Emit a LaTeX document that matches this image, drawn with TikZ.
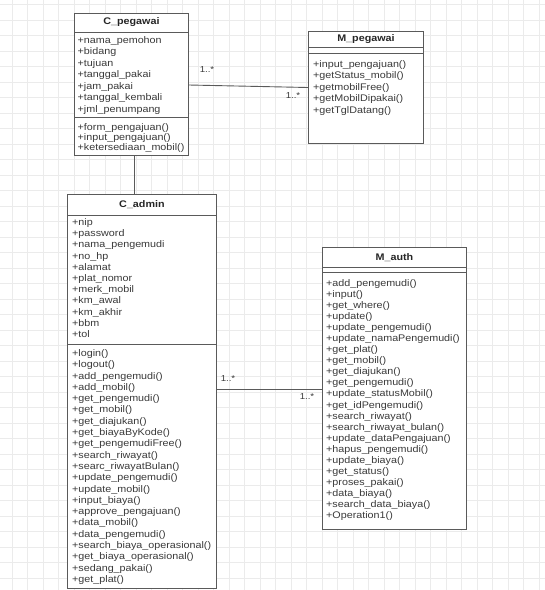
\documentclass[tikz,border=0pt]{standalone}
\usepackage{fontspec}
\setmainfont{Liberation Sans}[FakeStretch=1.12]
\usetikzlibrary{calc}
\definecolor{Grid}{HTML}{EBEBEB}
\definecolor{Edge}{HTML}{5A5A5A}
\definecolor{Ink}{HTML}{3A3A3A}

\begin{document}
\begin{tikzpicture}[x=1pt,y=-1pt,
    cls/.style={draw=Edge,line width=.9pt,fill=white,anchor=north west,inner sep=0pt},
    ttl/.style={font=\fontsize{9.6}{11}\selectfont\bfseries,text=black!85},
    mem/.style={anchor=north west,inner sep=0pt,align=left,text=Ink,font=\fontsize{9.6}{#1}\selectfont},
    mem/.default=11.3,
    sep/.style={draw=Edge,line width=.8pt},
    assoc/.style={draw=Edge,line width=.9pt},
    mult/.style={font=\fontsize{8.6}{10}\selectfont,text=Ink}
  ]
    \useasboundingbox (0,0) rectangle (545,590);
    \fill[white] (0,0) rectangle (545,590);
    \draw[Grid,line width=.5pt,step=15.5pt,shift={(12,4.5)}] (-12,-4.5) grid (533,585.5);

    % C_pegawai
    \node[cls,minimum width=114,minimum height=142] (cpegawai) at (74,13) {};
    \node[ttl] (cpegawai-t) at ($(cpegawai.north)+(0,9.5)$) {C\_pegawai};
    \draw[sep] ($(cpegawai.north west)+(0,19)$) -- ($(cpegawai.north east)+(0,19)$);
    \node[mem=11.5] (cpegawai-a) at ($(cpegawai.north west)+(3.5,23.3)$) {+nama\_pemohon\\+bidang\\+tujuan\\+tanggal\_pakai\\+jam\_pakai\\+tanggal\_kembali\\+jml\_penumpang};
    \draw[sep] ($(cpegawai.north west)+(0,104)$) -- ($(cpegawai.north east)+(0,104)$);
    \node[mem=10.2] (cpegawai-m) at ($(cpegawai.north west)+(3.5,110.3)$) {+form\_pengajuan()\\+input\_pengajuan()\\+ketersediaan\_mobil()};

    % M_pegawai
    \node[cls,minimum width=115,minimum height=112] (mpegawai) at (308,31) {};
    \node[ttl] (mpegawai-t) at ($(mpegawai.north)+(0,8.5)$) {M\_pegawai};
    \draw[sep] ($(mpegawai.north west)+(0,16)$) -- ($(mpegawai.north east)+(0,16)$);
    \draw[sep] ($(mpegawai.north west)+(0,22)$) -- ($(mpegawai.north east)+(0,22)$);
    \node[mem=11.6] (mpegawai-m) at ($(mpegawai.north west)+(5,29)$) {+input\_pengajuan()\\+getStatus\_mobil()\\+getmobilFree()\\+getMobilDipakai()\\+getTglDatang()};

    % C_admin
    \node[cls,minimum width=149,minimum height=394] (cadmin) at (67,194) {};
    \node[ttl] (cadmin-t) at ($(cadmin.north)+(0,10.5)$) {C\_admin};
    \draw[sep] ($(cadmin.north west)+(0,21)$) -- ($(cadmin.north east)+(0,21)$);
    \node[mem=11.2] (cadmin-a) at ($(cadmin.north west)+(5,24.3)$) {+nip\\+password\\+nama\_pengemudi\\+no\_hp\\+alamat\\+plat\_nomor\\+merk\_mobil\\+km\_awal\\+km\_akhir\\+bbm\\+tol};
    \draw[sep] ($(cadmin.north west)+(0,150)$) -- ($(cadmin.north east)+(0,150)$);
    \node[mem=11.3] (cadmin-m) at ($(cadmin.north west)+(5,155.3)$) {+login()\\+logout()\\+add\_pengemudi()\\+add\_mobil()\\+get\_pengemudi()\\+get\_mobil()\\+get\_diajukan()\\+get\_biayaByKode()\\+get\_pengemudiFree()\\+search\_riwayat()\\+searc\_riwayatBulan()\\+update\_pengemudi()\\+update\_mobil()\\+input\_biaya()\\+approve\_pengajuan()\\+data\_mobil()\\+data\_pengemudi()\\+search\_biaya\_operasional()\\+get\_biaya\_operasional()\\+sedang\_pakai()\\+get\_plat()};

    % M_auth
    \node[cls,minimum width=144,minimum height=282] (mauth) at (322,247) {};
    \node[ttl] (mauth-t) at ($(mauth.north)+(0,11)$) {M\_auth};
    \draw[sep] ($(mauth.north west)+(0,20)$) -- ($(mauth.north east)+(0,20)$);
    \draw[sep] ($(mauth.north west)+(0,25)$) -- ($(mauth.north east)+(0,25)$);
    \node[mem=11.05] (mauth-m) at ($(mauth.north west)+(4,32.3)$) {+add\_pengemudi()\\+input()\\+get\_where()\\+update()\\+update\_pengemudi()\\+update\_namaPengemudi()\\+get\_plat()\\+get\_mobil()\\+get\_diajukan()\\+get\_pengemudi()\\+update\_statusMobil()\\+get\_idPengemudi()\\+search\_riwayat()\\+search\_riwayat\_bulan()\\+update\_dataPengajuan()\\+hapus\_pengemudi()\\+update\_biaya()\\+get\_status()\\+proses\_pakai()\\+data\_biaya()\\+search\_data\_biaya()\\+Operation1()};

    % associations
    \draw[assoc] ($(cpegawai.north east)+(0,72)$) -- ($(mpegawai.north west)+(0,56.5)$);
    \node[mult] (cpegawai-n) at (207,70) {1..*};
    \node[mult] (mpegawai-n) at (293,96) {1..*};
    \draw[assoc] ([xshift=2.5]cpegawai.south) -- ([xshift=2.5]cpegawai.south |- cadmin.north);
    \draw[assoc] ($(cadmin.north east)+(0,195.3)$) -- ($(mauth.north west)+(0,142.3)$);
    \node[mult] (cadmin-n) at (228,379) {1..*};
    \node[mult] (mauth-n) at (307,397) {1..*};
  \end{tikzpicture}
\end{document}
